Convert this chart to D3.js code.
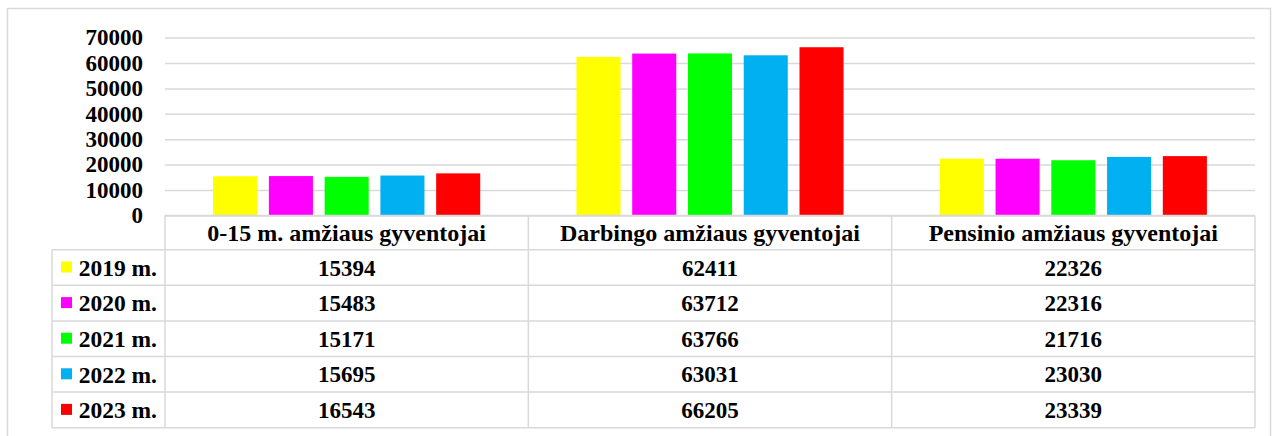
<!DOCTYPE html>
<html>
<head>
<meta charset="utf-8">
<script src="https://cdn.jsdelivr.net/npm/d3@7"></script>
<style>
  body { margin: 0; background: #fff; }
  svg text { font-family: 'Liberation Serif', 'Times New Roman', Times, 'DejaVu Serif', serif !important; font-weight: bold; fill: #000; }
</style>
</head>
<body>
<svg id="chart" width="1288" height="436"></svg>
<script>
(function () {
  'use strict';

  // data
  var categories = ['0-15 m. amžiaus gyventojai', 'Darbingo amžiaus gyventojai', 'Pensinio amžiaus gyventojai'];
  var years = ['2019 m.', '2020 m.', '2021 m.', '2022 m.', '2023 m.'];
  var colors = ['#FFFF00', '#FF00FF', '#00FF00', '#00B0F0', '#FF0000'];
  var values2019 = [15394, 62411, 22326];
  var values2020 = [15483, 63712, 22316];
  var values2021 = [15171, 63766, 21716];
  var values2022 = [15695, 63031, 23030];
  var values2023 = [16543, 66205, 23339];
  var yTicks = [0, 10000, 20000, 30000, 40000, 50000, 60000, 70000];

  var series = [values2019, values2020, values2021, values2022, values2023];

  var margin = { left: 165, right: 1255, top: 37.6, zero: 215.4 };
  var tableLeft = 52;
  var headerBottom = 249.7;
  var rowHeight = 35.6;
  var grid = '#d9d9d9';

  var svg = d3.select('#chart');

  // outer frame
  svg.append('rect')
    .attr('x', 7.5).attr('y', 8.5)
    .attr('width', 1263).attr('height', 440)
    .attr('fill', 'none')
    .attr('stroke', grid)
    .attr('stroke-width', 1.5);

  var x0 = d3.scaleBand()
    .domain(categories)
    .range([margin.left, margin.right]);
  var x1 = d3.scaleBand()
    .domain(years)
    .range([0, x0.bandwidth()])
    .paddingInner(0.21)
    .paddingOuter(0.863);
  var y = d3.scaleLinear()
    .domain([0, 70000])
    .range([margin.zero, margin.top]);

  // gridlines + y labels
  var yAxis = svg.append('g')
    .attr('transform', 'translate(' + margin.left + ',0)')
    .call(d3.axisLeft(y)
      .tickValues(yTicks)
      .tickSize(-(margin.right - margin.left))
      .tickPadding(22)
      .tickFormat(d3.format('d')));
  yAxis.attr('font-family', null).attr('font-size', 23);
  yAxis.select('.domain').remove();
  yAxis.selectAll('line')
    .attr('stroke', grid)
    .attr('stroke-width', 1.5);

  // bars
  var groups = svg.selectAll('.series')
    .data(series)
    .enter()
    .append('g')
    .attr('class', 'series')
    .attr('fill', function (d, i) { return colors[i]; });

  groups.each(function (vals, i) {
    d3.select(this).selectAll('rect')
      .data(vals)
      .enter()
      .append('rect')
      .attr('x', function (d, j) { return x0(categories[j]) + x1(years[i]); })
      .attr('y', function (d) { return y(d); })
      .attr('width', x1.bandwidth())
      .attr('height', function (d) { return y(0) - y(d); });
  });

  // data table
  var table = svg.append('g').attr('class', 'table');
  var tableBottom = headerBottom + rowHeight * years.length;

  function line(x1_, y1_, x2_, y2_) {
    table.append('line')
      .attr('x1', x1_).attr('y1', y1_)
      .attr('x2', x2_).attr('y2', y2_)
      .attr('stroke', grid)
      .attr('stroke-width', 1.5);
  }

  // horizontal lines
  line(margin.left, margin.zero, margin.right, margin.zero);
  for (var r = 0; r <= years.length; r++) {
    line(tableLeft, headerBottom + r * rowHeight, margin.right, headerBottom + r * rowHeight);
  }
  // vertical lines
  line(tableLeft, headerBottom, tableLeft, tableBottom);
  categories.forEach(function (c) {
    line(x0(c), margin.zero, x0(c), tableBottom);
  });
  line(margin.right, margin.zero, margin.right, tableBottom);

  // header
  table.selectAll('.header')
    .data(categories)
    .enter()
    .append('text')
    .attr('class', 'header')
    .attr('x', function (d) { return x0(d) + x0.bandwidth() / 2; })
    .attr('y', (margin.zero + headerBottom) / 2)
    .attr('dy', '0.35em')
    .attr('text-anchor', 'middle')
    .attr('font-size', 24)
    .text(function (d) { return d; });

  // rows
  var rows = table.selectAll('.row')
    .data(series)
    .enter()
    .append('g')
    .attr('class', 'row')
    .attr('transform', function (d, i) {
      return 'translate(0,' + (headerBottom + i * rowHeight + rowHeight / 2) + ')';
    });

  rows.append('rect')
    .attr('x', 61)
    .attr('y', -6)
    .attr('width', 11)
    .attr('height', 11)
    .attr('fill', function (d, i) { return colors[i]; });

  rows.append('text')
    .attr('x', 157)
    .attr('dy', '0.35em')
    .attr('text-anchor', 'end')
    .attr('font-size', 23.5)
    .text(function (d, i) { return years[i]; });

  rows.selectAll('.val')
    .data(function (d) { return d; })
    .enter()
    .append('text')
    .attr('class', 'val')
    .attr('x', function (d, j) { return x0(categories[j]) + x0.bandwidth() / 2; })
    .attr('dy', '0.35em')
    .attr('text-anchor', 'middle')
    .attr('font-size', 23)
    .text(function (d) { return d; });
}());
</script>
</body>
</html>
